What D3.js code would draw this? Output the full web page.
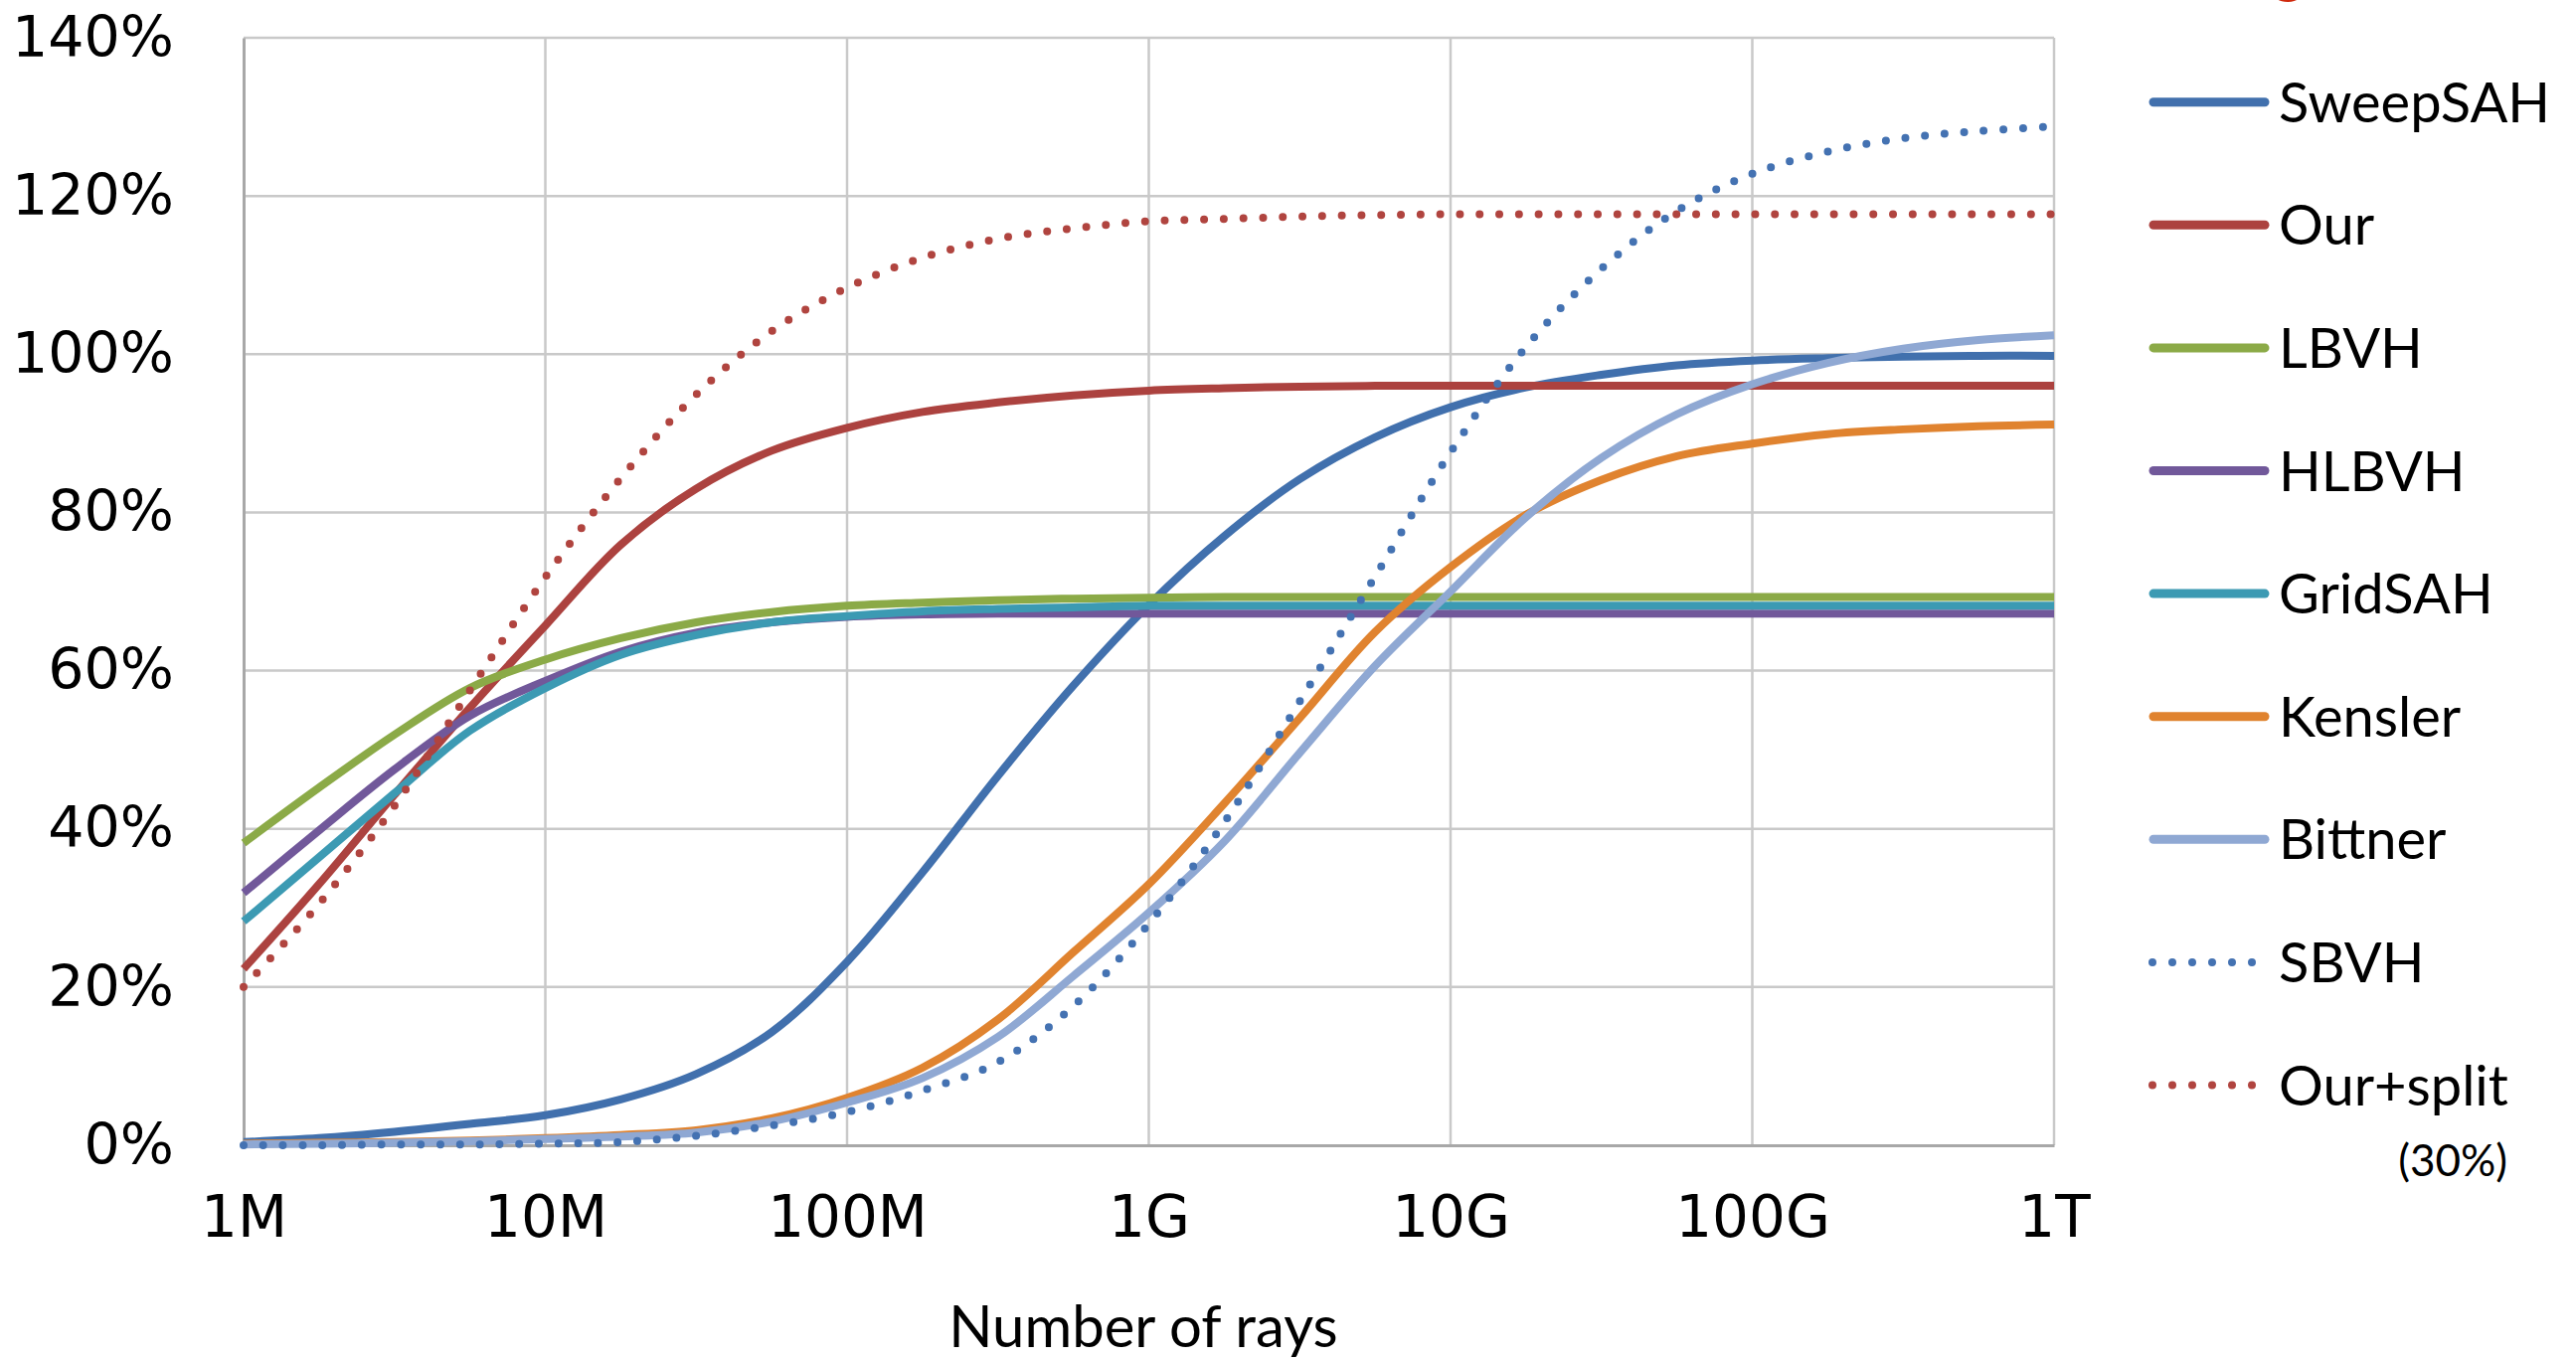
<!DOCTYPE html>
<html><head><meta charset="utf-8">
<script src="https://cdn.jsdelivr.net/npm/d3@7"></script>
<style>html,body{margin:0;padding:0;background:#fff;} svg{display:block;}</style>
</head><body>
<svg id="chart" width="2591" height="1368"></svg>
<script>
// ---- data ----
const rays = [1e6, 1.778e6, 3.162e6, 5.623e6, 1e7, 1.778e7, 3.162e7, 5.623e7,
              1e8, 1.778e8, 3.162e8, 5.623e8, 1e9, 1.778e9, 3.162e9, 5.623e9,
              1e10, 1.778e10, 3.162e10, 5.623e10, 1e11, 1.778e11, 3.162e11, 5.623e11, 1e12];
const xTickValues = [1e6, 1e7, 1e8, 1e9, 1e10, 1e11, 1e12];
const xTickLabels = ["1M", "10M", "100M", "1G", "10G", "100G", "1T"];
const yTickValues = [0, 20, 40, 60, 80, 100, 120, 140];
const seriesNames = ["SweepSAH", "Our", "LBVH", "HLBVH", "GridSAH", "Kensler", "Bittner", "SBVH", "Our+split"];

const sweepSAH = [0.4, 0.9, 1.7, 2.7, 3.8, 5.8, 9.0, 14.3, 23.2, 34.5, 46.7, 58.1, 68.3, 77.0, 84.2, 89.5, 93.3, 95.8, 97.4, 98.6, 99.2, 99.5, 99.7, 99.8, 99.8];
const our      = [22.3, 33.0, 44.3, 55.3, 65.7, 75.9, 83.0, 87.8, 90.7, 92.7, 93.9, 94.8, 95.4, 95.7, 95.9, 96.0, 96.0, 96.0, 96.0, 96.0, 96.0, 96.0, 96.0, 96.0, 96.0];
const lbvh     = [38.2, 45.2, 51.9, 57.8, 61.4, 64.1, 66.1, 67.4, 68.2, 68.6, 68.9, 69.1, 69.2, 69.3, 69.3, 69.3, 69.3, 69.3, 69.3, 69.3, 69.3, 69.3, 69.3, 69.3, 69.3];
const hlbvh    = [31.9, 39.8, 47.5, 54.3, 58.7, 62.4, 64.8, 66.1, 66.8, 67.1, 67.2, 67.2, 67.2, 67.2, 67.2, 67.2, 67.2, 67.2, 67.2, 67.2, 67.2, 67.2, 67.2, 67.2, 67.2];
const gridSAH  = [28.3, 36.4, 44.5, 52.4, 57.8, 62.0, 64.5, 66.1, 66.9, 67.5, 67.8, 68.0, 68.2, 68.2, 68.2, 68.2, 68.2, 68.2, 68.2, 68.2, 68.2, 68.2, 68.2, 68.2, 68.2];
const kensler  = [0.2, 0.3, 0.4, 0.6, 0.9, 1.3, 1.9, 3.4, 6.0, 9.8, 15.9, 24.4, 33.0, 43.2, 54.0, 64.9, 73.1, 79.7, 84.1, 87.1, 88.7, 89.9, 90.5, 90.9, 91.1];
const bittner  = [0.1, 0.2, 0.3, 0.5, 0.8, 1.1, 1.6, 3.0, 5.4, 8.5, 13.7, 21.4, 29.4, 38.4, 49.6, 60.6, 70.0, 79.4, 86.9, 92.4, 96.2, 98.9, 100.7, 101.8, 102.4];
const sbvh     = [0.0, 0.0, 0.1, 0.1, 0.2, 0.4, 1.2, 2.5, 4.2, 6.9, 10.5, 17.6, 28.0, 40.8, 56.1, 71.9, 87.6, 100.9, 110.8, 118.1, 122.8, 125.6, 127.3, 128.2, 128.8];
const ourSplit = [20.0, 30.5, 42.9, 57.5, 71.8, 84.3, 94.9, 102.9, 108.4, 112.2, 114.6, 115.9, 116.8, 117.1, 117.4, 117.6, 117.7, 117.7, 117.7, 117.7, 117.7, 117.7, 117.7, 117.7, 117.7];

const seriesValues = [sweepSAH, our, lbvh, hlbvh, gridSAH, kensler, bittner, sbvh, ourSplit];
const seriesColors = ["#4170AD", "#AC423F", "#8BAA47", "#71589A", "#3C9AB3", "#E0832F", "#8FA8D3", "#4472B2", "#B0443F"];
const seriesDotted = [false, false, false, false, false, false, false, true, true];

// ---- layout ----
const svg = d3.select("#chart");
const L = 245, R = 2066, T = 38, B = 1152;
const x = d3.scaleLog().domain([1e6, 1e12]).range([L, R]);
const y = d3.scaleLinear().domain([0, 140]).range([B, T]);

// grid
const grid = svg.append("g");
grid.selectAll("line.h").data(yTickValues.filter(v => v > 0)).join("line")
  .attr("x1", L).attr("x2", R).attr("y1", d => y(d)).attr("y2", d => y(d))
  .attr("stroke", "#c9c9c9").attr("stroke-width", 2.5);
grid.selectAll("line.v").data(xTickValues.slice(1)).join("line")
  .attr("x1", d => x(d)).attr("x2", d => x(d)).attr("y1", T).attr("y2", B)
  .attr("stroke", "#c9c9c9").attr("stroke-width", 2.5);

// axes
const yAxis = d3.axisLeft(y).tickValues(yTickValues).tickSize(0).tickPadding(70)
  .tickFormat(d => d + "%");
const gy = svg.append("g").attr("transform", `translate(${L},0)`).call(yAxis);
gy.select(".domain").attr("stroke", "#a8a8a8").attr("stroke-width", 3);
gy.selectAll("text").attr("font-family", "DejaVu Sans").attr("font-size", 57).attr("fill", "#000");

const xAxis = d3.axisBottom(x).tickValues(xTickValues).tickSize(0).tickPadding(51)
  .tickFormat((d, i) => xTickLabels[i]);
const gx = svg.append("g").attr("transform", `translate(0,${B})`).call(xAxis);
gx.select(".domain").attr("stroke", "#a8a8a8").attr("stroke-width", 3);
gx.selectAll("text").attr("font-family", "DejaVu Sans").attr("font-size", 58).attr("fill", "#000");

svg.append("text").attr("x", 1150).attr("y", 1355).attr("text-anchor", "middle")
  .attr("font-family", "Lato").attr("font-size", 58).attr("fill", "#000")
  .text("Number of rays");

// lines
const line = d3.line().x((d, i) => x(rays[i])).y(d => y(d)).curve(d3.curveCatmullRom.alpha(0.5));
const lines = svg.append("g");
seriesValues.forEach((vals, k) => {
  const p = lines.append("path").attr("d", line(vals)).attr("fill", "none")
    .attr("stroke", seriesColors[k]);
  if (seriesDotted[k]) {
    p.attr("stroke-width", 8).attr("stroke-linecap", "round").attr("stroke-dasharray", "0 19.8");
  } else {
    p.attr("stroke-width", 8).attr("stroke-linejoin", "round");
  }
});

// legend
const lg = svg.append("g");
seriesNames.forEach((name, k) => {
  const ly = 102.7 + 123.6 * k;
  const l = lg.append("line").attr("y1", ly).attr("y2", ly).attr("stroke", seriesColors[k])
    .attr("stroke-linecap", "round");
  if (seriesDotted[k]) {
    l.attr("x1", 2165).attr("x2", 2266).attr("stroke-width", 8).attr("stroke-dasharray", "0 20");
  } else {
    l.attr("x1", 2166).attr("x2", 2278).attr("stroke-width", 9);
  }
  lg.append("text").attr("x", 2292).attr("y", ly + 20)
    .attr("font-family", "Lato").attr("font-size", 56).attr("fill", "#000").text(name);
});
lg.append("text").attr("x", 2522).attr("y", 1183).attr("text-anchor", "end")
  .attr("font-family", "Lato").attr("font-size", 44).attr("fill", "#000").text("(30%)");

// red glyph clipped by the top edge, as in the reference
svg.append("text").attr("x", 2286).attr("y", -9)
  .attr("font-family", "Lato").attr("font-weight", "bold").attr("font-size", 60)
  .attr("fill", "#D02A0E").text("g");
</script>
</body></html>
